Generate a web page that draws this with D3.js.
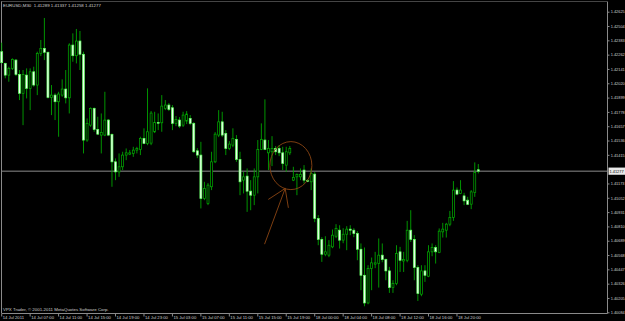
<!DOCTYPE html>
<html>
<head>
<meta charset="utf-8">
<script src="https://cdn.jsdelivr.net/npm/d3@7"></script>
<style>
body{margin:0;background:#000;overflow:hidden}
svg{display:block;background:#000;font-family:"Liberation Sans",Arial,sans-serif}
</style>
</head>
<body>
<svg width="625" height="321"></svg>
<script>

const symbol = "EURUSD,M30"

const opens = [1.42287,1.42188,1.42089,1.42146,1.42216,1.42095,1.41935,1.42089,1.41977,1.42117,
1.42005,1.42273,1.42315,1.42282,1.41901,1.41920,1.41864,1.41920,1.41971,1.41897,
1.42343,1.42253,1.42377,1.42265,1.41540,1.41666,1.41808,1.41630,1.41582,1.41582,
1.41709,1.41588,1.41356,1.41271,1.41314,1.41413,1.41421,1.41427,1.41455,1.41461,
1.41554,1.41512,1.41514,1.41610,1.41689,1.41686,1.41808,1.41836,1.41813,1.41681,
1.41709,1.41666,1.41700,1.41723,1.41681,1.41449,1.41413,1.41046,1.41004,1.41145,
1.41356,1.41582,1.41694,1.41596,1.41469,1.41497,1.41546,1.41376,1.41201,1.41235,
1.41108,1.41074,1.41229,1.41461,1.41540,1.41432,1.41441,1.41469,1.41469,1.41432,
1.41328,1.41432,1.41201,1.41229,1.41229,1.41286,1.41197,1.41187,1.41252,1.40877,
1.40700,1.40575,1.40567,1.40637,1.40727,1.40778,1.40694,1.40744,1.40787,1.40778,
1.40750,1.40617,1.40397,1.40163,1.40454,1.40491,1.40496,1.40567,1.40530,1.40434,
1.40293,1.40327,1.40595,1.40518,1.40524,1.40778,1.40700,1.40463,1.40237,1.40434,
1.40389,1.40595,1.40632,1.40590,1.40764,1.40778,1.40829,1.40886,1.41117,1.41089,
1.41068,1.41032,1.40998,1.41097,1.41289]

const highs = [1.42363,1.42194,1.42160,1.42231,1.42225,1.42132,1.42132,1.42146,1.42146,1.42160,
1.42287,1.42386,1.42572,1.42287,1.42005,1.41935,1.41948,1.42053,1.42132,1.42358,
1.42442,1.42479,1.42462,1.42287,1.41723,1.41816,1.41816,1.41737,1.41765,1.41948,
1.41717,1.41596,1.41385,1.41427,1.41441,1.41469,1.41455,1.41483,1.41483,1.41568,
1.41639,1.41977,1.41785,1.41779,1.41765,1.41920,1.41878,1.41853,1.41836,1.41743,
1.41734,1.41779,1.41785,1.41751,1.41692,1.41472,1.41525,1.41187,1.41176,1.41441,
1.41607,1.41793,1.41779,1.41624,1.41531,1.41639,1.41582,1.41441,1.41271,1.41300,
1.41201,1.41300,1.41540,1.41681,1.41884,1.41540,1.41573,1.41489,1.41497,1.41483,
1.41483,1.41489,1.41314,1.41258,1.41300,1.41328,1.41210,1.41300,1.41269,1.40905,
1.40719,1.40727,1.40694,1.40784,1.40829,1.40820,1.40795,1.40812,1.40820,1.40795,
1.40770,1.40666,1.40632,1.40482,1.40547,1.40595,1.40708,1.40666,1.40539,1.40468,
1.40355,1.40651,1.40637,1.40595,1.40857,1.40947,1.40736,1.40482,1.40482,1.40482,
1.40651,1.40666,1.40651,1.40793,1.40840,1.40840,1.40941,1.41193,1.41139,1.41201,
1.41094,1.41060,1.41117,1.41351,1.41337]

const lows = [1.42188,1.42062,1.42033,1.42132,1.42081,1.41878,1.41666,1.41892,1.41793,1.41991,
1.41920,1.42250,1.42216,1.41892,1.41751,1.41709,1.41568,1.41906,1.41850,1.41765,
1.42202,1.42188,1.42132,1.41427,1.41525,1.41652,1.41610,1.41582,1.41427,1.41573,
1.41573,1.41145,1.41201,1.41229,1.41286,1.41370,1.41413,1.41398,1.41427,1.41413,
1.41506,1.41497,1.41497,1.41599,1.41624,1.41610,1.41793,1.41785,1.41624,1.41658,
1.41641,1.41650,1.41675,1.41666,1.41432,1.41387,1.40962,1.41032,1.40990,1.41117,
1.41345,1.41565,1.41565,1.41413,1.41455,1.41480,1.41356,1.41074,1.41089,1.40933,
1.40947,1.40990,1.41089,1.41455,1.41455,1.41286,1.41320,1.41413,1.41404,1.41286,
1.41271,1.41413,1.41193,1.41074,1.41201,1.41173,1.41184,1.41117,1.40846,1.40651,
1.40510,1.40558,1.40550,1.40626,1.40711,1.40623,1.40668,1.40609,1.40736,1.40719,
1.40524,1.40271,1.40135,1.40152,1.40271,1.40457,1.40293,1.40507,1.40355,1.40248,
1.40248,1.40313,1.40425,1.40425,1.40507,1.40679,1.40355,1.40180,1.40220,1.40341,
1.40381,1.40558,1.40496,1.40584,1.40716,1.40716,1.40812,1.40857,1.41074,1.41083,
1.40990,1.40990,1.40956,1.41060,1.41258]

const closes = [1.42194,1.42089,1.42146,1.42222,1.42095,1.41935,1.42095,1.41977,1.42117,1.42005,
1.42273,1.42315,1.42282,1.41901,1.41920,1.41864,1.41929,1.41971,1.41897,1.42343,
1.42253,1.42377,1.42265,1.41540,1.41681,1.41808,1.41630,1.41590,1.41605,1.41709,
1.41582,1.41356,1.41271,1.41314,1.41413,1.41432,1.41432,1.41455,1.41469,1.41554,
1.41512,1.41610,1.41768,1.41689,1.41683,1.41827,1.41836,1.41799,1.41681,1.41715,
1.41658,1.41751,1.41760,1.41681,1.41441,1.41413,1.41046,1.41131,1.41159,1.41356,
1.41590,1.41694,1.41582,1.41469,1.41506,1.41554,1.41376,1.41187,1.41229,1.41108,
1.41074,1.41229,1.41461,1.41546,1.41461,1.41469,1.41469,1.41441,1.41432,1.41342,
1.41441,1.41469,1.41224,1.41249,1.41249,1.41201,1.41193,1.41258,1.40877,1.40700,
1.40575,1.40595,1.40651,1.40736,1.40793,1.40694,1.40744,1.40787,1.40778,1.40750,
1.40617,1.40397,1.40163,1.40454,1.40502,1.40502,1.40567,1.40530,1.40434,1.40293,
1.40327,1.40581,1.40524,1.40530,1.40778,1.40700,1.40463,1.40243,1.40434,1.40397,
1.40595,1.40632,1.40595,1.40770,1.40787,1.40829,1.40886,1.41117,1.41083,1.41117,
1.41026,1.40996,1.41102,1.41266,1.41277]

const priceTicks = [1.42625,1.42504,1.42383,1.42262,1.42141,1.42020,1.41899,1.41778,1.41657,1.41536,
1.41415,1.41173,1.41052,1.40931,1.40810,1.40689,1.40568,1.40447,1.40326,1.40205,1.40084]

const timeTicks = [0,8,16,24,32,40,48,56,64,72,80,88,96,104,112,120,128]
const timeLabels = ["14 Jul 2011","14 Jul 07:00","14 Jul 11:00","14 Jul 15:00","14 Jul 19:00",
"14 Jul 23:00","15 Jul 03:00","15 Jul 07:00","15 Jul 11:00","15 Jul 15:00","15 Jul 19:00",
"18 Jul 00:00","18 Jul 04:00","18 Jul 08:00","18 Jul 12:00","18 Jul 16:00","18 Jul 20:00"]

// hand drawn objects, in (bar index, price)
const circleCenter = [81.3, 1.41324]
const arrowShaft = [[73.9, 1.40660],[79.7, 1.41131]]
const arrowHead = [[74.95, 1.41038],[79.7, 1.41131],[80.6, 1.40967]]

const svg = d3.select("svg")

const candles = opens.map((o,i)=>{
    return {i:i, o:o, h:highs[i], l:lows[i], c:closes[i]}
})

const x = d3.scaleBand()
    .domain(d3.range(opens.length))
    .range([-0.08,480.1])
    .paddingInner(0.25)
    .paddingOuter(0.125)

const bw = x.bandwidth()
const xAt = (i)=>{return x(0) + bw/2 + i*x.step()}

const y = d3.scaleLinear()
    .domain([priceTicks[0], priceTicks[priceTicks.length-1]])
    .range([11.7,312.3])

const axisColor = "#8a8a8a"
const textColor = "#cfcfcf"

// frame
svg.append("line")
    .attr("x1",1.5).attr("y1",1.5).attr("x2",1.5).attr("y2",313)
    .attr("stroke",axisColor)
svg.append("line")
    .attr("x1",1.5).attr("y1",1.5).attr("x2",607.5).attr("y2",1.5)
    .attr("stroke",axisColor)
    .attr("stroke-dasharray","1,1")
svg.append("line")
    .attr("x1",607.5).attr("y1",1.5).attr("x2",607.5).attr("y2",313.5)
    .attr("stroke",axisColor)
svg.append("line")
    .attr("x1",1.5).attr("y1",313.5).attr("x2",607.5).attr("y2",313.5)
    .attr("stroke",axisColor)

// price axis
const yAxis = svg.append("g")
    .attr("transform","translate(607.5,0)")
    .call(d3.axisRight(y).tickValues(priceTicks).tickSize(2).tickPadding(1.2).tickFormat(d3.format(".5f")))
yAxis.select(".domain").remove()
yAxis.selectAll("line").attr("stroke",axisColor)
yAxis.selectAll("text")
    .attr("fill",textColor)
    .style("font-size","3.9px")

// time axis
const xAxis = svg.append("g")
    .attr("transform","translate(0,313.5)")
    .call(d3.axisBottom(x).tickValues(timeTicks).tickSize(3).tickFormat((d,i)=>{return timeLabels[i]}))
xAxis.select(".domain").remove()
xAxis.selectAll("line").attr("stroke",axisColor)
xAxis.selectAll("text")
    .attr("fill",textColor)
    .attr("text-anchor","start")
    .attr("x",1)
    .attr("y",2.4)
    .attr("dy","0.71em")
    .style("font-size","4.2px")

// current price line
const last = candles[candles.length-1]
svg.append("line")
    .attr("x1",1.5).attr("x2",607.5)
    .attr("y1",y(last.c)).attr("y2",y(last.c))
    .attr("stroke","#8c8c8c")
    .attr("stroke-width",1)

// candles
const candle = svg.selectAll("g.candle")
    .data(candles)
    .enter()
    .append("g")
    .attr("class","candle")

candle.append("line")
    .attr("x1",(d)=>{return x(d.i)+bw/2})
    .attr("x2",(d)=>{return x(d.i)+bw/2})
    .attr("y1",(d)=>{return y(d.h)})
    .attr("y2",(d)=>{return y(d.l)})
    .attr("stroke","#00a400")
    .attr("stroke-width",0.9)

candle.append("rect")
    .attr("x",(d)=>{return x(d.i)+0.35})
    .attr("y",(d)=>{return y(Math.max(d.o,d.c))})
    .attr("width",bw-0.7)
    .attr("height",(d)=>{return Math.max(0.8, Math.abs(y(d.o)-y(d.c)))})
    .attr("fill",(d)=>{return d.c>=d.o ? "#000" : "#eeffee"})
    .attr("stroke",(d)=>{return d.c>=d.o ? "#00b000" : "#5cff5c"})
    .attr("stroke-width",0.7)

// current price label
svg.append("rect")
    .attr("x",608.5).attr("y",y(last.c)-3.6)
    .attr("width",16.5).attr("height",7.2)
    .attr("fill","#e8e8e8")
svg.append("text")
    .attr("x",609.5).attr("y",y(last.c)+1.5)
    .attr("fill","#000")
    .style("font-size","3.9px")
    .text(d3.format(".5f")(last.c))

// drawn objects
const objColor = "#8b4513"
svg.append("ellipse")
    .attr("cx",xAt(circleCenter[0]))
    .attr("cy",y(circleCenter[1]))
    .attr("rx",21).attr("ry",24)
    .attr("fill","none")
    .attr("stroke",objColor)
    .attr("stroke-width",0.9)

const objLine = d3.line()
    .x((d)=>{return xAt(d[0])})
    .y((d)=>{return y(d[1])})

svg.append("path")
    .attr("d",objLine(arrowShaft))
    .attr("fill","none").attr("stroke",objColor).attr("stroke-width",0.9)
svg.append("path")
    .attr("d",objLine(arrowHead))
    .attr("fill","none").attr("stroke",objColor).attr("stroke-width",0.9)

// texts
svg.append("text")
    .attr("x",3).attr("y",7.2)
    .attr("fill",textColor)
    .style("font-size","4.4px")
    .attr("xml:space","preserve")
    .text(`${symbol}  ${[last.o,last.h,last.l,last.c].map(d3.format(".5f")).join(" ")}`)

svg.append("text")
    .attr("x",3).attr("y",311)
    .attr("fill",textColor)
    .style("font-size","4.4px")
    .text("VPX Trader, © 2001-2011 MetaQuotes Software Corp.")

</script>
</body>
</html>
